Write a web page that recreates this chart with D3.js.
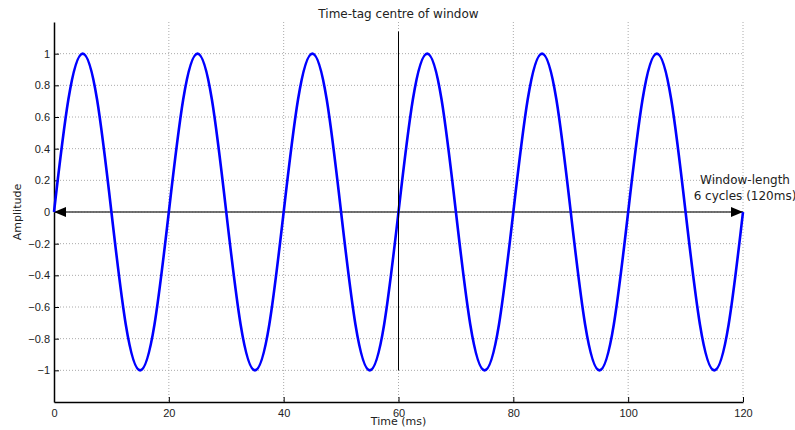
<!DOCTYPE html>
<html>
<head>
<meta charset="utf-8">
<script src="https://cdn.jsdelivr.net/npm/d3@7"></script>
<style>
  body { margin: 0; background: #fff; }
  svg { font-family: "DejaVu Sans", sans-serif; }
  .tick text { font-size: 11px; fill: #222; }
</style>
</head>
<body>
<div id="chart"></div>
<script>
// samples every 2.5 ms (6 cycles over 120 ms)
const times = d3.range(0, 120.01, 2.5);
const amplitude = [
    0, 0.71, 1, 0.71, 0, -0.71, -1, -0.71,
    0, 0.71, 1, 0.71, 0, -0.71, -1, -0.71,
    0, 0.71, 1, 0.71, 0, -0.71, -1, -0.71,
    0, 0.71, 1, 0.71, 0, -0.71, -1, -0.71,
    0, 0.71, 1, 0.71, 0, -0.71, -1, -0.71,
    0, 0.71, 1, 0.71, 0, -0.71, -1, -0.71,
    0
];
const xTicks = [0, 20, 40, 60, 80, 100, 120];
const yTicks = [-1, -0.8, -0.6, -0.4, -0.2, 0, 0.2, 0.4, 0.6, 0.8, 1];
const centreTime = 60;
const windowStart = 0, windowEnd = 120;

const width = 795, height = 430;
const margin = { top: 22, right: 52, bottom: 28, left: 54 };
const innerWidth = width - margin.left - margin.right;
const innerHeight = height - margin.top - margin.bottom;

const svg = d3.select("#chart").append("svg")
    .attr("width", width)
    .attr("height", height);

const defs = svg.append("defs");
["start", "end"].forEach((k) => {
    defs.append("marker")
        .attr("id", "arrow-" + k)
        .attr("viewBox", "0 0 12 10")
        .attr("refX", k === "end" ? 12 : 0)
        .attr("refY", 5)
        .attr("markerWidth", 12)
        .attr("markerHeight", 10)
        .attr("markerUnits", "userSpaceOnUse")
        .attr("orient", "auto")
        .append("path")
        .attr("d", k === "end" ? "M0,0L12,5L0,10Z" : "M12,0L0,5L12,10Z")
        .attr("fill", "#000");
});

const g = svg.append("g")
    .attr("transform", `translate(${margin.left},${margin.top})`);

const x = d3.scaleLinear().domain([0, 120]).range([0, innerWidth]);
const y = d3.scaleLinear().domain([-1.2, 1.2]).range([innerHeight, 0]);

// grid
g.append("g").selectAll("line")
    .data(xTicks.filter((d) => d !== 0))
    .enter().append("line")
    .attr("x1", (d) => x(d)).attr("x2", (d) => x(d))
    .attr("y1", 0).attr("y2", innerHeight)
    .attr("stroke", "#aaa")
    .attr("stroke-dasharray", "1,2");

g.append("g").selectAll("line")
    .data(yTicks)
    .enter().append("line")
    .attr("x1", 0).attr("x2", innerWidth)
    .attr("y1", (d) => y(d)).attr("y2", (d) => y(d))
    .attr("stroke", "#aaa")
    .attr("stroke-dasharray", "1,2");

// axes
const xAxis = g.append("g")
    .attr("transform", `translate(0,${innerHeight})`)
    .call(d3.axisBottom(x).tickValues(xTicks).tickSize(-5).tickPadding(7).tickSizeOuter(0));
const yAxis = g.append("g")
    .call(d3.axisLeft(y).tickValues(yTicks).tickSize(-5).tickPadding(4).tickSizeOuter(0)
        .tickFormat((d) => d3.format("")(d).replace("-", "\u2212")));
[xAxis, yAxis].forEach((a) => {
    a.select(".domain").attr("stroke", "#000").attr("stroke-width", 1.5);
    a.selectAll(".tick line").attr("stroke", "#000");
});

// window-length arrow along zero
g.append("line")
    .attr("x1", x(windowStart)).attr("x2", x(windowEnd))
    .attr("y1", y(0)).attr("y2", y(0))
    .attr("stroke", "#444")
    .attr("stroke-width", 1.5)
    .attr("marker-start", "url(#arrow-start)")
    .attr("marker-end", "url(#arrow-end)");

// sine wave
const line = d3.line()
    .x((d, i) => x(times[i]))
    .y((d) => y(d))
    .curve(d3.curveNatural);

g.append("path")
    .datum(amplitude)
    .attr("d", line)
    .attr("fill", "none")
    .attr("stroke", "#0000ff")
    .attr("stroke-width", 2.6);

// centre marker
g.append("line")
    .attr("x1", x(centreTime)).attr("x2", x(centreTime))
    .attr("y1", y(1.14)).attr("y2", y(-1))
    .attr("stroke", "#000")
    .attr("stroke-width", 1);

svg.append("text")
    .attr("x", margin.left + x(centreTime))
    .attr("y", 18)
    .attr("text-anchor", "middle")
    .attr("font-size", 12)
    .attr("fill", "#222")
    .text("Time-tag centre of window");

const wl = svg.append("text")
    .attr("text-anchor", "middle")
    .attr("font-size", 12)
    .attr("fill", "#222");
wl.append("tspan").attr("x", 745).attr("y", 184).text("Window-length");
wl.append("tspan").attr("x", 745).attr("y", 200).text("6 cycles (120ms)");

svg.append("text")
    .attr("x", margin.left + x(60))
    .attr("y", 425)
    .attr("text-anchor", "middle")
    .attr("font-size", 11)
    .attr("fill", "#222")
    .text("Time (ms)");

svg.append("text")
    .attr("transform", `translate(21,${margin.top + y(0)}) rotate(-90)`)
    .attr("text-anchor", "middle")
    .attr("font-size", 11)
    .attr("fill", "#222")
    .text("Amplitude");
</script>
</body>
</html>
